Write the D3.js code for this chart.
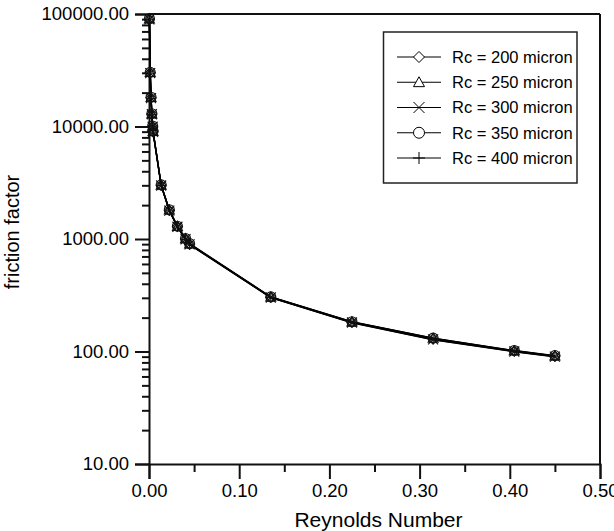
<!DOCTYPE html>
<html>
<head>
<meta charset="utf-8">
<script src="https://cdn.jsdelivr.net/npm/d3@7"></script>
<style>
  html, body { margin: 0; padding: 0; background: #fff; }
  svg { display: block; }
  text { font-family: "Liberation Sans", Arial, Helvetica, sans-serif; fill: #000; }
</style>
</head>
<body>
<svg id="chart" width="614" height="531"></svg>
<script>
// Reynolds number at each measurement
const reynolds = [0.00045, 0.00135, 0.00225, 0.00315, 0.00405, 0.0045,
                  0.0135, 0.0225, 0.0315, 0.0405, 0.045,
                  0.135, 0.225, 0.315, 0.405, 0.45];

// friction factor per channel radius
const f200 = [90000, 30000, 18000, 12900, 10000, 9000, 3000, 1800, 1290, 1000, 900, 304, 182, 130, 101, 91];
const f250 = [90500, 30200, 18100, 12950, 10050, 9050, 3010, 1810, 1295, 1005, 905, 305, 183, 131, 101.5, 91.5];
const f300 = [89500, 29800, 17900, 12850, 9950, 8950, 2990, 1790, 1285, 995, 895, 302, 181, 128, 100, 90];
const f350 = [91000, 30300, 18200, 13000, 10100, 9100, 3030, 1820, 1300, 1010, 910, 306, 184, 131.5, 102, 92];
const f400 = [89000, 29700, 17800, 12800, 9900, 8900, 2980, 1780, 1280, 990, 890, 301, 180, 127, 99.5, 89.5];

const seriesNames = ["Rc = 200 micron", "Rc = 250 micron", "Rc = 300 micron", "Rc = 350 micron", "Rc = 400 micron"];
const seriesValues = [f200, f250, f300, f350, f400];
const markerKinds = ["diamond", "triangle", "cross", "circle", "plus"];

const xTicks = [0, 0.1, 0.2, 0.3, 0.4, 0.5];
const xMinorTicks = [0.05, 0.15, 0.25, 0.35, 0.45];
const yTicks = [10, 100, 1000, 10000, 100000];

const svg = d3.select("#chart");
const L = 149, R = 600, T = 14, B = 464;

const x = d3.scaleLinear().domain([0, 0.5]).range([L, R]);
const y = d3.scaleLog().domain([10, 100000]).range([B, T]);

// minor ticks on the log axis: 2..9 within each decade
const yMinor = [];
for (let d = 10; d < 100000; d *= 10) for (let k = 2; k <= 9; k++) yMinor.push(d * k);

// frame top and right
svg.append("line").attr("x1", L).attr("x2", R).attr("y1", T).attr("y2", T)
  .attr("stroke", "#111").attr("stroke-width", 2);
svg.append("line").attr("x1", R).attr("x2", R).attr("y1", T).attr("y2", B)
  .attr("stroke", "#111").attr("stroke-width", 2);

// x axis
const gx = svg.append("g").attr("transform", `translate(0,${B})`);
gx.call(d3.axisBottom(x).tickValues(xMinorTicks).tickSize(8).tickFormat(""));
gx.call(g => g.select(".domain").remove());
const gx2 = svg.append("g").attr("transform", `translate(0,${B})`);
gx2.call(d3.axisBottom(x).tickValues(xTicks).tickSize(15).tickPadding(5).tickFormat(d3.format(".2f")));

// y axis
const gy = svg.append("g").attr("transform", `translate(${L},0)`);
gy.call(d3.axisLeft(y).tickValues(yMinor).tickSize(7).tickFormat(""));
gy.call(g => g.select(".domain").remove());
const gy2 = svg.append("g").attr("transform", `translate(${L},0)`);
gy2.call(d3.axisLeft(y).tickValues(yTicks).tickSize(14).tickPadding(6).tickFormat(d3.format(".2f")));

svg.selectAll(".tick line").attr("stroke", "#111").attr("stroke-width", 2);
svg.selectAll(".domain").attr("stroke", "#111").attr("stroke-width", 2);
svg.selectAll(".tick text").style("font-size", "18.5px").style("font-family", '"Liberation Sans", Arial, sans-serif');

// axis titles
svg.append("text").attr("x", (L + R) / 2 + 4).attr("y", 527).attr("text-anchor", "middle")
  .style("font-size", "21px").text("Reynolds Number");
svg.append("text").attr("transform", "translate(19,232) rotate(-90)").attr("text-anchor", "middle")
  .style("font-size", "20px").text("friction factor");

// marker shapes
function markerPath(kind, r) {
  switch (kind) {
    case "diamond": return `M0,${-r}L${r},0L0,${r}L${-r},0Z`;
    case "triangle": return `M0,${-r}L${r},${r * 0.8}L${-r},${r * 0.8}Z`;
    case "cross": return `M${-r},${-r}L${r},${r}M${-r},${r}L${r},${-r}`;
    case "circle": return `M${r},0A${r},${r} 0 1,1 ${-r},0A${r},${r} 0 1,1 ${r},0Z`;
    case "plus": return `M0,${-r}L0,${r}M${-r},0L${r},0`;
  }
}

const line = d3.line().x(d => x(d[0])).y(d => y(d[1]));

seriesValues.forEach((vals, i) => {
  const pts = reynolds.map((r, j) => [r, vals[j]]);
  svg.append("path").datum(pts).attr("d", line)
    .attr("fill", "none").attr("stroke", "#000").attr("stroke-width", 1.4);
});
seriesValues.forEach((vals, i) => {
  const pts = reynolds.map((r, j) => [r, vals[j]]);
  svg.append("g").selectAll("path").data(pts).join("path")
    .attr("transform", d => `translate(${x(d[0])},${y(d[1])})`)
    .attr("d", markerPath(markerKinds[i], 5))
    .attr("fill", "none").attr("stroke", "#111").attr("stroke-width", 1.1);
});

// legend
const lg = svg.append("g");
lg.append("rect").attr("x", 383.5).attr("y", 32).attr("width", 193.5).attr("height", 151)
  .attr("fill", "#fff").attr("stroke", "#222").attr("stroke-width", 1.5);
const rowY = d3.scaleLinear().domain([0, 4]).range([57, 158]);
seriesNames.forEach((name, i) => {
  const cy = rowY(i);
  lg.append("line").attr("x1", 397).attr("x2", 441).attr("y1", cy).attr("y2", cy)
    .attr("stroke", "#000").attr("stroke-width", 1.2);
  lg.append("path").attr("transform", `translate(419,${cy})`)
    .attr("d", markerPath(markerKinds[i], i === 4 ? 6 : 5.5))
    .attr("fill", markerKinds[i] === "cross" || markerKinds[i] === "plus" ? "none" : "#fff")
    .attr("stroke", "#000").attr("stroke-width", 1);
  lg.append("text").attr("x", 452).attr("y", cy).attr("dy", "0.36em")
    .style("font-size", "16.5px").text(name);
});
</script>
</body>
</html>
